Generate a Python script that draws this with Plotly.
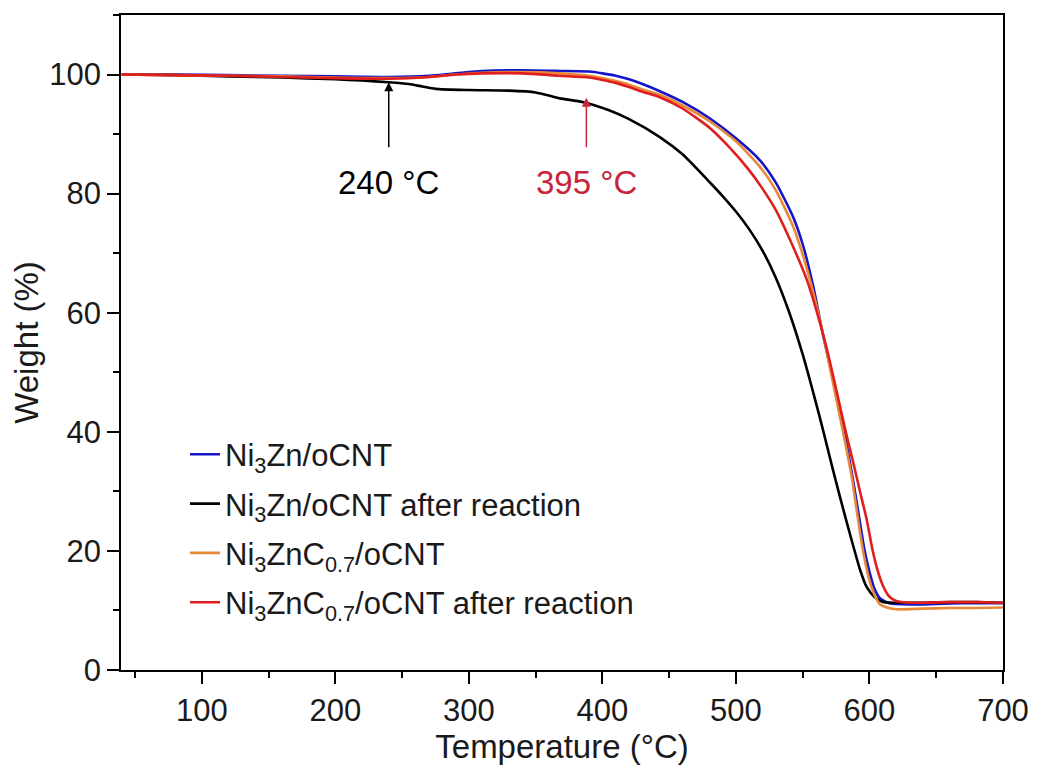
import plotly.graph_objects as go

# ---- data ----
temp_blue = [40, 80, 120, 160, 200, 240, 270, 290, 310, 340, 368, 390, 400, 410, 420, 430, 443, 460, 480, 500,
             518, 530, 543, 550, 558, 565, 572, 579, 584, 588, 592, 596, 600, 604, 608, 615, 630, 650, 670, 700]
w_blue = [100.0, 100.0, 99.9, 99.8, 99.7, 99.6, 99.8, 100.2, 100.6, 100.7, 100.6, 100.5, 100.2, 99.8, 99.2, 98.4,
          97.2, 95.4, 92.7, 89.3, 85.6, 81.8, 76.0, 71.5, 64.3, 56.5, 49.5, 42.5, 36.5, 31.5, 26.0, 20.5, 16.5,
          13.5, 12.0, 11.2, 11.0, 11.1, 11.2, 11.2]

temp_black = [40, 80, 120, 160, 200, 220, 240, 255, 265, 275, 300, 330, 350, 368, 385, 405, 420, 443, 460, 480,
              490, 500, 510, 520, 530, 540, 550, 558, 565, 572, 578, 583, 588, 593, 598, 604, 610, 620, 640,
              660, 680, 700]
w_black = [100.0, 99.9, 99.7, 99.5, 99.2, 99.0, 98.7, 98.4, 98.0, 97.6, 97.4, 97.3, 97.0, 96.0, 95.4, 94.0, 92.5,
           89.5, 86.6, 82.0, 79.6, 77.0, 74.0, 70.4, 65.8, 60.0, 53.0, 46.5, 40.5, 34.2, 29.0, 24.8, 20.7, 16.8,
           13.9, 12.2, 11.4, 11.3, 11.3, 11.4, 11.4, 11.3]

temp_orange = [40, 80, 120, 160, 200, 240, 270, 290, 310, 340, 368, 390, 400, 410, 420, 430, 443, 460, 480, 500,
               518, 530, 543, 553, 560, 567, 572, 577, 582, 587, 590, 593, 596, 600, 604, 608, 613, 620, 640, 660,
               680, 700]
w_orange = [100.0, 99.9, 99.8, 99.7, 99.5, 99.4, 99.6, 100.0, 100.3, 100.4, 100.2, 99.8, 99.4, 98.9, 98.3, 97.5,
            96.6, 94.8, 92.2, 88.8, 84.5, 80.5, 74.4, 67.5, 61.5, 54.5, 49.0, 43.5, 38.0, 32.0, 27.5, 23.0, 19.0,
            15.0, 12.5, 11.0, 10.5, 10.2, 10.3, 10.4, 10.4, 10.5]

temp_red = [40, 80, 120, 160, 200, 240, 270, 290, 310, 340, 368, 390, 400, 410, 420, 430, 443, 460, 480, 495,
            510, 520, 530, 542, 553, 560, 568, 573, 578, 583, 588, 593, 598, 602, 606, 610, 615, 620, 630, 660,
            680, 700]
w_red = [100.0, 99.9, 99.8, 99.6, 99.4, 99.3, 99.6, 100.0, 100.2, 100.2, 99.8, 99.5, 99.1, 98.6, 97.9, 97.1,
         96.2, 94.3, 91.1, 87.8, 83.9, 80.8, 77.2, 71.5, 65.6, 60.6, 54.0, 49.2, 44.2, 39.3, 34.7, 29.9, 25.2,
         20.5, 16.8, 14.2, 12.3, 11.6, 11.3, 11.4, 11.4, 11.3]

series_names = ["Ni<sub>3</sub>Zn/oCNT",
                "Ni<sub>3</sub>Zn/oCNT after reaction",
                "Ni<sub>3</sub>ZnC<sub>0.7</sub>/oCNT",
                "Ni<sub>3</sub>ZnC<sub>0.7</sub>/oCNT after reaction"]
series_colors = ["#1414c8", "#000000", "#e8893a", "#e01e1e"]

x_ticks = [100, 200, 300, 400, 500, 600, 700]
y_ticks = [0, 20, 40, 60, 80, 100]

# annotations: (arrow temperature, arrow head weight, arrow tail weight, label, colour)
notes = [(240, 98.7, 87.8, "240 °C", "#000000"),
         (388, 96.1, 87.8, "395 °C", "#c8243a")]

FONT = "Liberation Sans, Arial, sans-serif"
TXT = "#1a1a1a"

fig = go.Figure()
for i, (t, w, name, col) in enumerate(zip([temp_blue, temp_black, temp_orange, temp_red],
                                          [w_blue, w_black, w_orange, w_red], series_names, series_colors)):
    fig.add_trace(go.Scatter(x=t, y=w, mode="lines", name=name, legendgroup=f"g{i}",
                             line=dict(color=col, width=2.6, shape="spline", smoothing=0.6)))

for xt, yh, yt, label, col in notes:
    fig.add_annotation(x=xt, y=yh, ax=xt, ay=yt, xref="x", yref="y", axref="x", ayref="y",
                       text=label, showarrow=True, arrowhead=2, arrowsize=1.2, arrowwidth=1.5,
                       arrowcolor=col, yanchor="top", borderpad=16,
                       font=dict(family=FONT, size=33, color=col))

axis_common = dict(showline=True, linecolor="black", linewidth=1.5, mirror=True, ticks="outside",
                   ticklen=12, tickwidth=1.5, tickcolor="black", showgrid=False, zeroline=False,
                   tickfont=dict(family=FONT, size=31, color=TXT))

fig.update_xaxes(range=[39.5, 700], tickvals=x_ticks,
                 minor=dict(dtick=50, tick0=0, ticks="outside", ticklen=6, tickwidth=1.5, tickcolor="black"),
                 title=dict(text="Temperature (°C)", font=dict(family=FONT, size=33, color=TXT), standoff=4),
                 **axis_common)
fig.update_yaxes(range=[0, 110], tickvals=y_ticks,
                 minor=dict(dtick=10, tick0=0, ticks="outside", ticklen=6, tickwidth=1.5, tickcolor="black"),
                 title=dict(text="Weight (%)", font=dict(family=FONT, size=33, color=TXT), standoff=8),
                 **axis_common)

# the page body adds an 8 px margin, so the figure is 8 px smaller than the window
fig.update_layout(width=1029, height=761, margin=dict(l=113, r=34, t=7, b=99, autoexpand=False),
                  plot_bgcolor="white", paper_bgcolor="white",
                  legend=dict(x=0.0726, y=0.37, xanchor="left", yanchor="top", bgcolor="rgba(0,0,0,0)",
                              font=dict(family=FONT, size=31, color=TXT), tracegroupgap=6),
                  showlegend=True)

fig.write_html("out.html")
